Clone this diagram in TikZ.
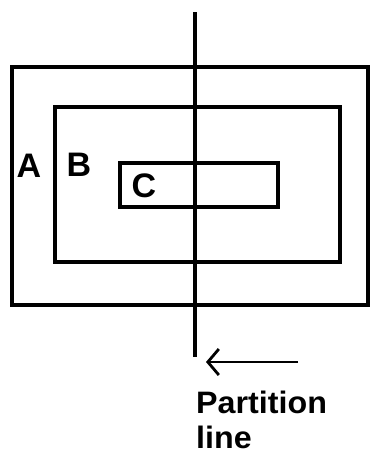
\documentclass[tikz,border=0pt]{standalone}
\usepackage{fontspec}
\setmainfont{Liberation Sans}
\usetikzlibrary{arrows.meta}
\begin{document}
\begin{tikzpicture}[x=1pt,y=-1pt,
  box/.style={draw, line width=3.2pt, inner sep=0pt, anchor=center},
  lbl/.style={font=\fontsize{34}{34}\selectfont\bfseries, inner sep=0pt},
  txt/.style={font=\fontsize{31}{31}\selectfont\bfseries, inner sep=0pt, anchor=base west, xscale=1.04},
  part/.style={line width=4.8pt},
  pointer/.style={line width=2.8pt, -{Straight Barb[length=11pt,width=26pt,line width=2.8pt]}}]
\useasboundingbox (0,0) rectangle (371,458);
\node[box, minimum width=356pt, minimum height=238pt] (A) at (190,186) {};
\node[box, minimum width=285pt, minimum height=155pt] (B) at (197.5,184.5) {};
\node[box, minimum width=158pt, minimum height=44pt] (C) at (199,185) {};
\coordinate (ptop) at (195,12);
\coordinate (pbot) at (195,357);
\draw[part] (ptop) -- (pbot);
\coordinate (astart) at (298,362);
\coordinate (aend) at (206,362);
\draw[pointer] (astart) -- (aend);
\node[lbl] (la) at (29,166) {A};
\node[lbl] (lb) at (79,165) {B};
\node[lbl] (lc) at (144,186) {C};
\node[txt] (t1) at (196,413) {Partition};
\node[txt] (t2) at (196,448) {line};
\end{tikzpicture}
\end{document}
